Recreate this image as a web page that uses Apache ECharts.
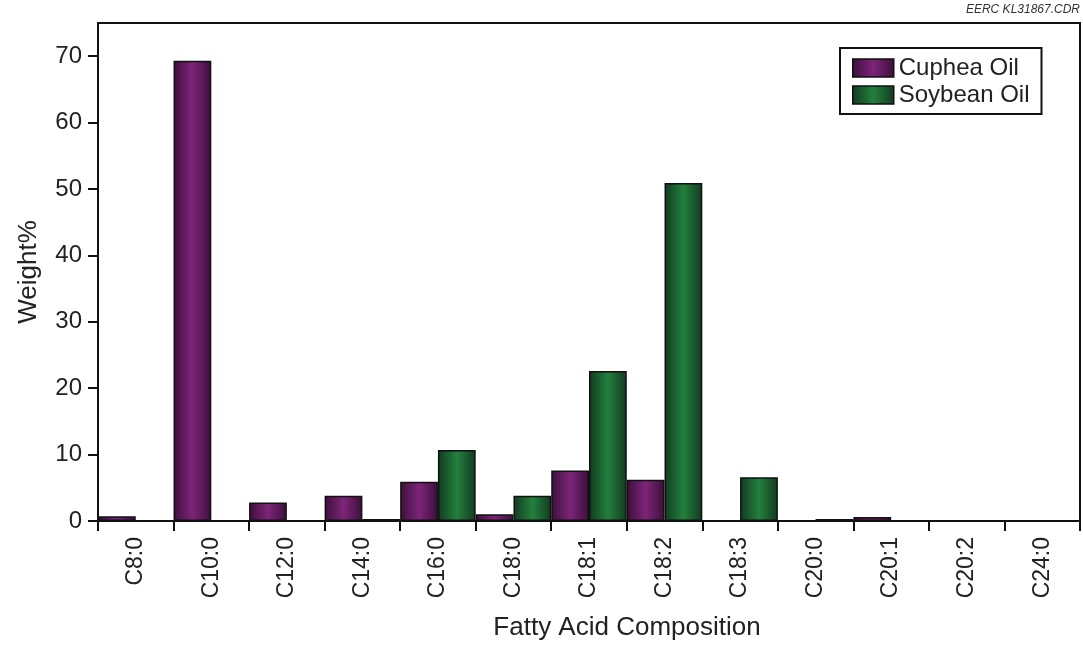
<!DOCTYPE html>
<html>
<head>
<meta charset="utf-8">
<script src="https://cdn.jsdelivr.net/npm/echarts@6/dist/echarts.min.js"></script>
<style>html,body{margin:0;padding:0;background:#fff}#c{width:1083px;height:646px}</style>
</head>
<body>
<div id="c"></div>
<script>
const categories = ['C8:0','C10:0','C12:0','C14:0','C16:0','C18:0','C18:1','C18:2','C18:3','C20:0','C20:1','C20:2','C24:0'];
const cupheaOil = [0.7, 69.3, 2.8, 3.8, 5.9, 1.0, 7.6, 6.2, 0, 0, 0.6, 0, 0];
const soybeanOil = [0, 0, 0, 0.3, 10.7, 3.8, 22.6, 50.9, 6.6, 0.3, 0, 0, 0];
const yTicks = [0, 10, 20, 30, 40, 50, 60, 70];

const font = 'Liberation Sans, Arial, sans-serif';
function grad(dark, light) {
  return new echarts.graphic.LinearGradient(0, 0, 1, 0, [
    {offset: 0, color: dark}, {offset: 0.5, color: light}, {offset: 1, color: dark}
  ]);
}
const purple = grad('#3b0f3a', '#7d2579');
const green = grad('#123a20', '#23803d');

const chart = echarts.init(document.getElementById('c'));
chart.setOption({
  animation: false,
  backgroundColor: '#fff',
  grid: {left: 98, right: 3, top: 23, bottom: 121, show: true, borderColor: '#111', borderWidth: 2, backgroundColor: 'transparent'},
  legend: {
    orient: 'vertical', left: 840, top: 48, icon: 'rect',
    itemWidth: 41, itemHeight: 18, itemGap: 3,
    padding: [8, 12, 7, 12],
    borderColor: '#111', borderWidth: 2,
    textStyle: {fontFamily: font, fontSize: 24, color: '#222'},
    data: [
      {name: 'Cuphea Oil', itemStyle: {color: purple, borderColor: '#111', borderWidth: 1.5}},
      {name: 'Soybean Oil', itemStyle: {color: green, borderColor: '#111', borderWidth: 1.5}}
    ]
  },
  xAxis: {
    type: 'category', data: categories,
    name: 'Fatty Acid Composition', nameLocation: 'middle', nameGap: 94,
    nameTextStyle: {fontFamily: font, fontSize: 26, color: '#222', padding: [0, 0, 0, 76]},
    axisLine: {lineStyle: {color: '#111', width: 2}},
    axisTick: {show: true, alignWithLabel: false, length: 10, lineStyle: {color: '#111', width: 2}},
    axisLabel: {rotate: 90, fontFamily: font, fontSize: 23, color: '#222', margin: 16}
  },
  yAxis: {
    type: 'value', min: 0, max: 75, interval: 10,
    name: 'Weight%', nameLocation: 'middle', nameGap: 56,
    nameTextStyle: {fontFamily: font, fontSize: 26, color: '#222'},
    splitLine: {show: false},
    axisLine: {show: true, lineStyle: {color: '#111', width: 2}},
    axisTick: {show: true, length: 10, customValues: yTicks, lineStyle: {color: '#111', width: 2}},
    axisLabel: {fontFamily: font, fontSize: 24, color: '#222', margin: 16, customValues: yTicks}
  },
  graphic: [{
    type: 'text', right: 3, top: 4,
    style: {text: 'EERC KL31867.CDR', font: 'italic 12px ' + font, fill: '#333'}
  }],
  series: [
    {name: 'Cuphea Oil', type: 'bar', data: cupheaOil, barGap: '0%', barCategoryGap: '0%',
     itemStyle: {color: purple, borderColor: '#111', borderWidth: 1.5}},
    {name: 'Soybean Oil', type: 'bar', data: soybeanOil, barGap: '0%', barCategoryGap: '0%',
     itemStyle: {color: green, borderColor: '#111', borderWidth: 1.5}}
  ]
});
</script>
</body>
</html>
